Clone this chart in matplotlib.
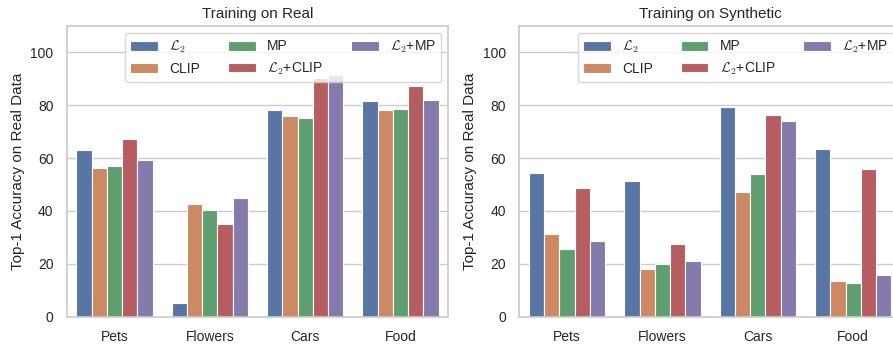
import numpy as np
import matplotlib
matplotlib.use("Agg")
import matplotlib.pyplot as plt
import seaborn as sns

sns.set_theme(style="whitegrid")
plt.rcParams['font.family'] = ['Liberation Sans', 'DejaVu Sans']
plt.rcParams['mathtext.fontset'] = 'cm'

datasets = ["Pets", "Flowers", "Cars", "Food"]
methods = [r"$\mathcal{L}_2$", "CLIP", "MP", r"$\mathcal{L}_2$+CLIP", r"$\mathcal{L}_2$+MP"]
colors = ["#5975a4", "#cc8963", "#5f9e6e", "#b55d60", "#857aab"]

# rows = method, cols = dataset
real_acc = [
    [63.0, 5.2, 78.2, 81.8],   # L2
    [56.2, 42.7, 76.0, 78.2],  # CLIP
    [57.1, 40.5, 75.2, 78.6],  # MP
    [67.2, 34.9, 90.5, 87.4],  # L2+CLIP
    [59.3, 44.8, 91.5, 81.9],  # L2+MP
]
synth_acc = [
    [54.5, 51.4, 79.4, 63.5],
    [31.4, 18.0, 47.2, 13.4],
    [25.6, 20.1, 53.9, 12.7],
    [48.7, 27.4, 76.4, 55.9],
    [28.5, 21.0, 73.9, 15.9],
]
titles = ["Training on Real", "Training on Synthetic"]

fig = plt.figure(figsize=(8.93, 3.45), dpi=100)
W, H = 893, 345
ax_w, ax_h = 381.6 / W, 290.7 / H
bottom = (H - 316.7) / H
axes = [fig.add_axes([66.7 / W, bottom, ax_w, ax_h]),
        fig.add_axes([519.3 / W, bottom, ax_w, ax_h])]

x = np.arange(len(datasets))
bw = 0.8 / len(methods)
for ax, data, title in zip(axes, [real_acc, synth_acc], titles):
    for i, (m, c) in enumerate(zip(methods, colors)):
        ax.bar(x - 0.4 + bw * (i + 0.5), data[i], width=bw, color=c,
               edgecolor="white", linewidth=0.8, label=m)
    ax.set_xlim(-0.5, 3.5)
    ax.set_ylim(0, 110)
    ax.set_yticks([0, 20, 40, 60, 80, 100])
    ax.set_xticks(x)
    ax.set_xticklabels(datasets)
    ax.tick_params(labelsize=10)
    ax.grid(axis="x", visible=False)
    ax.set_axisbelow(True)
    ax.set_title(title, fontsize=11)
    ax.set_ylabel("Top-1 Accuracy on Real Data", fontsize=11)
    ax.legend(loc="upper right", ncol=3, fontsize=10)

fig.savefig("out.png", dpi=100)
